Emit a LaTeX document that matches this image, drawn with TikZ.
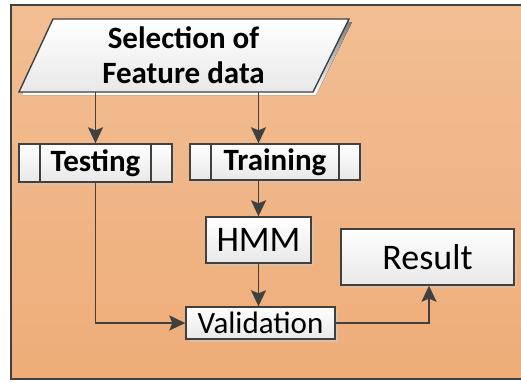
\documentclass[tikz,border=0pt]{standalone}
\usepackage{fontspec}
\setmainfont{Carlito}
\usetikzlibrary{arrows.meta,shadows}

\definecolor{bgtop}{RGB}{242,190,148}
\definecolor{bgbot}{RGB}{238,173,121}
\definecolor{ink}{RGB}{64,64,64}
\definecolor{shade}{RGB}{226,190,160}
\definecolor{boxbot}{RGB}{232,232,232}

\tikzset{
  box/.style={draw=ink, line width=1.4pt, top color=white, bottom color=boxbot,
    inner sep=0pt, align=center,
    drop shadow={shadow xshift=3pt, shadow yshift=-3pt, fill=shade, opacity=1}},
  procbox/.style={box, path picture={
      \draw[ink, line width=1.2pt]
        ([xshift=#1]path picture bounding box.north west) --
        ([xshift=#1]path picture bounding box.south west)
        ([xshift=-#1]path picture bounding box.north east) --
        ([xshift=-#1]path picture bounding box.south east);}},
  flow/.style={draw=ink, line width=1.5pt,
    -{Stealth[length=16pt,width=15pt,inset=3pt]}},
  boldtxt/.style={font=\fontsize{31}{35}\selectfont\bfseries},
  plaintxt/.style={font=\fontsize{31}{35}\selectfont},
  bigtxt/.style={font=\fontsize{36}{40}\selectfont},
}

\begin{document}
\begin{tikzpicture}[x=1pt, y=-1pt]
  \useasboundingbox (0,0) rectangle (521,381);
  \clip (0,0) rectangle (521,381);

  % orange panel with dark frame, running past the right edge
  \draw[ink, line width=1.8pt, top color=bgtop, bottom color=bgbot]
    (11,5) rectangle (535,379);

  % input parallelogram
  \fill[shade] (56,22) -- (352,22) -- (316,95) -- (22,95) -- cycle;
  \draw[ink, line width=1.4pt, top color=white, bottom color=boxbot]
    (53,19) -- (349,19) -- (313,92) -- (19,92) -- cycle;
  \node[boldtxt, align=center, inner sep=0pt, minimum width=260pt,
        minimum height=73pt] (sel) at (183.5,55.5)
        {Selection of\\Feature data};

  % process boxes
  \node[procbox=21pt, boldtxt, minimum width=153pt, minimum height=38pt]
    (test) at (95.5,163) {Testing};
  \node[procbox=21pt, boldtxt, minimum width=170pt, minimum height=36pt]
    (train) at (275,162) {Training};
  \node[box, bigtxt, minimum width=105pt, minimum height=46pt]
    (hmm) at (258.5,240) {HMM};
  \node[box, bigtxt, minimum width=173pt, minimum height=56pt]
    (res) at (427.5,257) {Result};
  \node[box, plaintxt, minimum width=149pt, minimum height=32pt]
    (val) at (260.5,323) {Validation};

  % connectors
  \draw[flow] (sel.south -| test.north) -- (test.north);
  \draw[flow] (hmm |- sel.south) -- (hmm |- train.north);
  \draw[flow] (hmm |- train.south) -- (hmm.north);
  \draw[flow] (hmm.south) -- (hmm.south |- val.north);
  \draw[flow] (test.south) |- (val.west);
  \draw[flow] (val.east) -| ([xshift=1.5pt]res.south);
\end{tikzpicture}
\end{document}
